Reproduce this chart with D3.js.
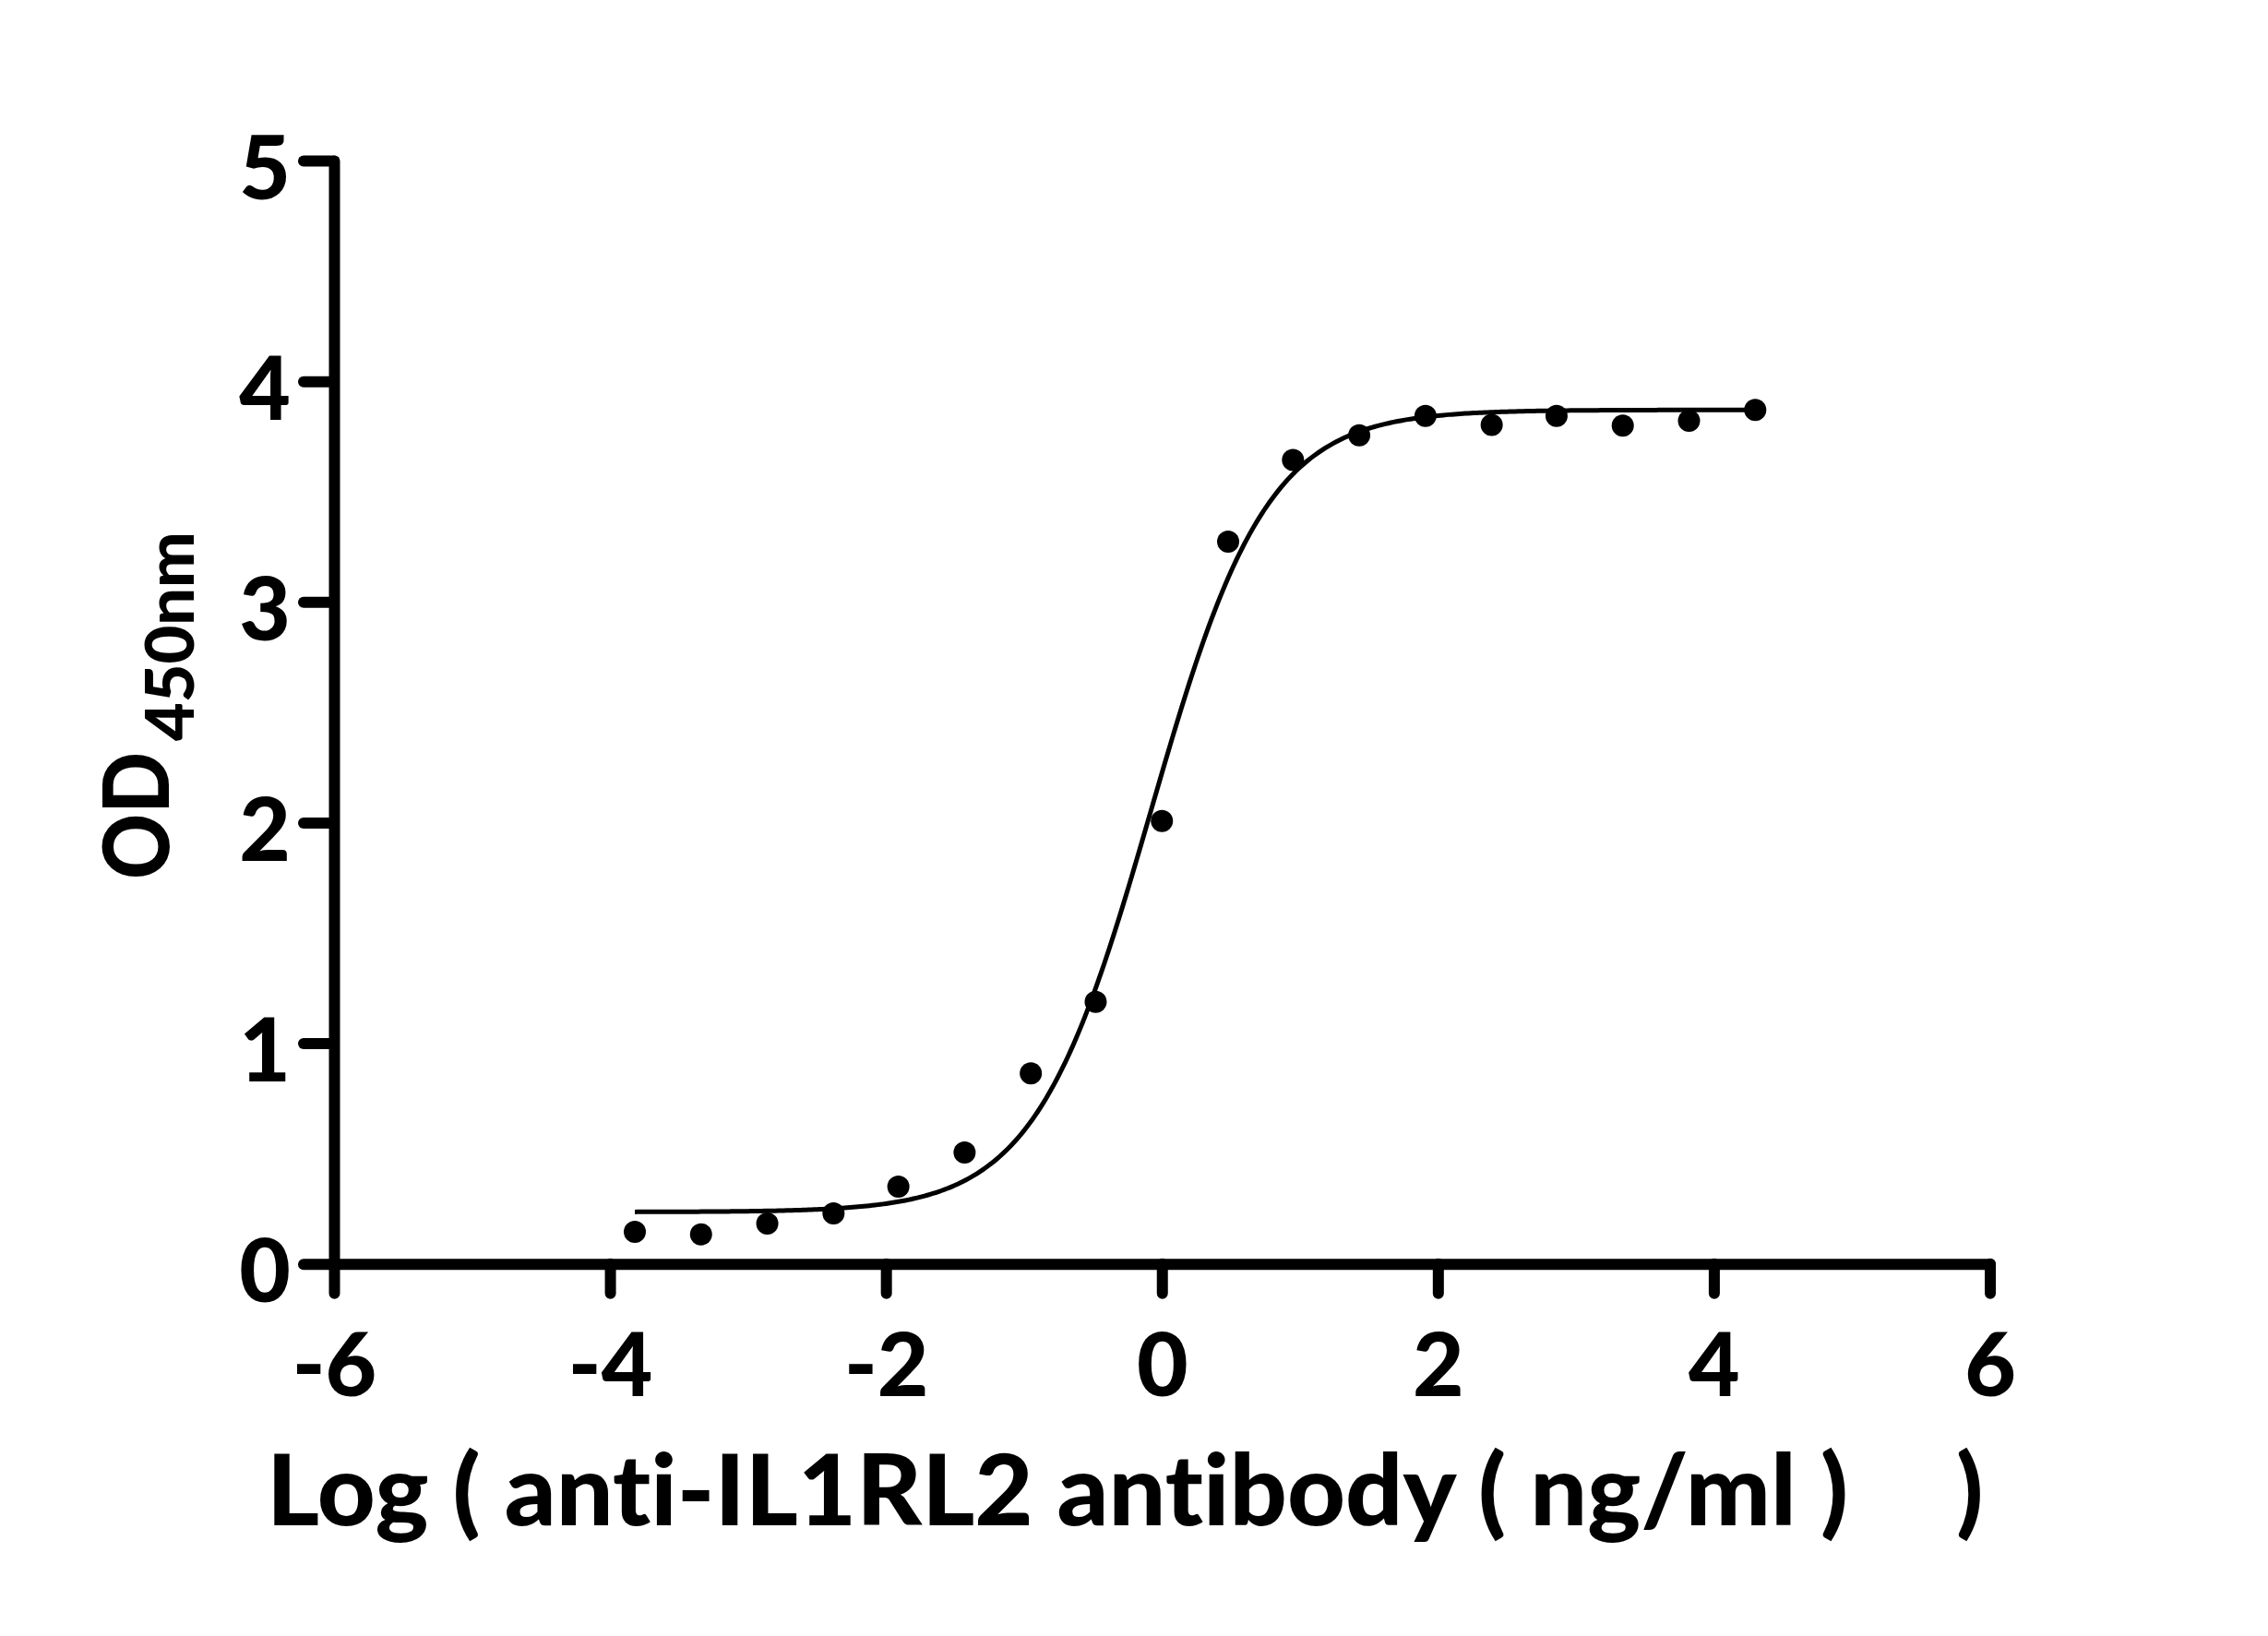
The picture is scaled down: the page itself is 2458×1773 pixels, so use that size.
<!DOCTYPE html>
<html>
<head>
<meta charset="utf-8">
<script src="https://cdn.jsdelivr.net/npm/d3@7"></script>
<style>
  body { margin: 0; background: #fff; }
  text { font-family: Lato, "Open Sans", sans-serif; font-weight: 900; fill: #000; font-variant-ligatures: none; }
</style>
</head>
<body>
<div id="chart"></div>
<script>
// data: log10 concentration vs OD450
const logConc = [-3.82, -3.34, -2.86, -2.38, -1.91, -1.43, -0.95, -0.48, 0.00,
  0.48, 0.95, 1.43, 1.91, 2.39, 2.86, 3.34, 3.82, 4.30];
const od450 = [0.145, 0.134, 0.183, 0.229, 0.350, 0.505, 0.863, 1.187, 2.007,
  3.273, 3.643, 3.755, 3.843, 3.802, 3.843, 3.799, 3.821, 3.870];
// 4PL fit: bottom, top, logEC50, hill slope
const fitParams = [0.235, 3.87, -0.08, 1.03];
const xTicks = [-6, -4, -2, 0, 2, 4, 6];
const yTicks = [0, 1, 2, 3, 4, 5];

const width = 2458;
const height = 1773;

const svg = d3.select("#chart")
  .append("svg")
  .attr("width", width)
  .attr("height", height);

const x = d3.scaleLinear().domain([-6, 6]).range([362, 2156.5]);
const y = d3.scaleLinear().domain([0, 5]).range([1369.7, 174]);

// axes (plain hyphen for negatives, like the original)
const yAxis = svg.append("g")
  .attr("transform", `translate(${x(-6)},0)`)
  .call(d3.axisLeft(y).tickValues(yTicks).tickFormat(d => String(d))
    .tickSize(33).tickSizeOuter(0).tickPadding(14));

const xAxis = svg.append("g")
  .attr("transform", `translate(0,${y(0)})`)
  .call(d3.axisBottom(x).tickValues(xTicks).tickFormat(d => String(d))
    .tickSize(32).tickSizeOuter(0));

[yAxis, xAxis].forEach(g => {
  g.selectAll("path, line")
    .attr("stroke", "#000")
    .attr("stroke-width", 12)
    .attr("stroke-linecap", "round")
    .attr("stroke-linejoin", "round");
  g.selectAll("text")
    .style("font-size", "96px")
    .attr("fill", "#000");
});

yAxis.selectAll("text").attr("dy", "0.43em");
xAxis.selectAll("text").attr("y", 143).attr("dy", 0);

// fitted curve
const [fitBottom, fitTop, fitEc50, fitHill] = fitParams;
const fit = v => fitBottom + (fitTop - fitBottom) / (1 + Math.pow(10, (fitEc50 - v) * fitHill));
const curveX = d3.range(logConc[0], logConc[logConc.length - 1] + 0.001, 0.02);

svg.append("path")
  .datum(curveX)
  .attr("fill", "none")
  .attr("stroke", "#000")
  .attr("stroke-width", 5)
  .attr("d", d3.line().x(d => x(d)).y(d => y(fit(d))));

// points
svg.selectAll(".pt")
  .data(logConc)
  .enter()
  .append("circle")
  .attr("class", "pt")
  .attr("cx", d => x(d))
  .attr("cy", (d, i) => y(od450[i]))
  .attr("r", 12)
  .attr("fill", "#000");

// axis titles
svg.append("text")
  .attr("x", 289)
  .attr("y", 1653)
  .attr("textLength", 1714)
  .attr("lengthAdjust", "spacingAndGlyphs")
  .style("font-size", "106px")
  .text("Log ( anti-IL1RL2 antibody ( ng/ml )");

svg.append("text")
  .attr("x", 2120)
  .attr("y", 1653)
  .style("font-size", "106px")
  .text(")");

const yTitle = svg.append("text")
  .attr("transform", "translate(183,953) rotate(-90)");
yTitle.append("tspan")
  .style("font-size", "99px")
  .attr("textLength", 138)
  .attr("lengthAdjust", "spacingAndGlyphs")
  .text("OD");
yTitle.append("tspan")
  .attr("dx", 12)
  .attr("dy", 27)
  .style("font-size", "72px")
  .text("450nm");
</script>
</body>
</html>
